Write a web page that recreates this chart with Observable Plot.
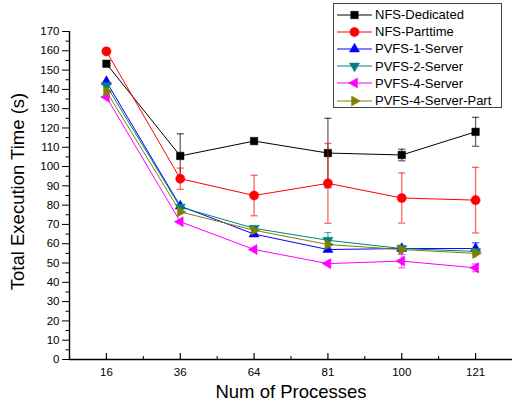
<!DOCTYPE html>
<html>
<head>
<meta charset="utf-8">
<script src="https://cdn.jsdelivr.net/npm/d3@7"></script>
<script src="https://cdn.jsdelivr.net/npm/@observablehq/plot@0.6"></script>
<style>
  body { margin: 0; background: #fff; font-family: "Liberation Sans", Arial, sans-serif; }
  #wrap { position: relative; width: 512px; height: 409px; }
  #legend { position: absolute; left: 333px; top: 3px; width: 167px; height: 103px;
            border: 1px solid #444; background: #fff; box-sizing: content-box; }
  .row { position: absolute; left: 3px; height: 17px; display: flex; align-items: center;
         font-size: 13px; color: #000; white-space: nowrap; }
  .row svg { margin-right: 2px; }
</style>
</head>
<body>
<div id="wrap"><div id="chart"></div><div id="legend"></div></div>
<script>
// ---- data ----
const xLabels = ["16", "36", "64", "81", "100", "121"];
const seriesNames = ["NFS-Dedicated", "NFS-Parttime", "PVFS-1-Server", "PVFS-2-Server", "PVFS-4-Server", "PVFS-4-Server-Part"];
const seriesColors = ["#000000", "#ff0000", "#0000ff", "#008080", "#ff00ff", "#808000"];

const nfsDedicated      = [153.3, 105.5, 113.2, 107.0, 106.0, 118.0];
const nfsDedicatedErr   = [0, 11.5, 0, 18, 3, 7.5];
const nfsParttime       = [159.7, 93.7, 85.0, 91.3, 83.7, 82.6];
const nfsParttimeErr    = [1.5, 5.5, 10.5, 20.7, 13, 17];
const pvfs1Server       = [144.0, 79.5, 65.0, 57.0, 57.5, 57.5];
const pvfs1ServerErr    = [0, 0, 0, 0, 0, 3];
const pvfs2Server       = [142.0, 79.0, 68.0, 61.8, 57.5, 56.0];
const pvfs2ServerErr    = [0, 0, 0, 4, 0, 0];
const pvfs4Server       = [136.0, 71.4, 57.0, 49.7, 51.0, 47.5];
const pvfs4ServerErr    = [0, 0, 0, 0, 3.5, 2];
const pvfs4ServerPart   = [139.0, 76.5, 67.0, 59.6, 57.0, 55.0];
const pvfs4ServerPartErr= [0, 0, 0, 0, 0, 0];

const yMajor = d3.range(0, 171, 10);
const yMinor = d3.range(5, 170, 10);

const seriesValues = [nfsDedicated, nfsParttime, pvfs1Server, pvfs2Server, pvfs4Server, pvfs4ServerPart];
const seriesErrors = [nfsDedicatedErr, nfsParttimeErr, pvfs1ServerErr, pvfs2ServerErr, pvfs4ServerErr, pvfs4ServerPartErr];

// ---- symbols ----
function tri(theta) {
  return {draw(ctx, size) {
    const R = Math.sqrt(size) * 0.72;
    for (let k = 0; k < 3; k++) {
      const a = theta + k * 2 * Math.PI / 3;
      const x = R * Math.cos(a), y = R * Math.sin(a);
      if (k === 0) ctx.moveTo(x, y); else ctx.lineTo(x, y);
    }
    ctx.closePath();
  }};
}
const squareSym = {draw(ctx, size) { const s = Math.sqrt(size) * 0.46; ctx.rect(-s, -s, 2 * s, 2 * s); }};
const circleSym = {draw(ctx, size) { const r = Math.sqrt(size / Math.PI); ctx.moveTo(r, 0); ctx.arc(0, 0, r, 0, 2 * Math.PI); }};
const seriesSymbols = [squareSym, circleSym, tri(-Math.PI / 2), tri(Math.PI / 2), tri(Math.PI), tri(0)];
const capSym = {draw(ctx, size) { ctx.moveTo(-3.6, 0); ctx.lineTo(3.6, 0); }};

// ---- table ----
const rows = [];
seriesNames.forEach((s, k) => {
  seriesValues[k].forEach((v, i) => rows.push({s, k, i, v, e: seriesErrors[k][i]}));
});

const W = 512, H = 409, mT = 31, mB = 50, mL = 69, mR = 0;
const innerH = H - mT - mB;
const xIdx = xLabels.map((_, i) => i);
const xMinor = d3.range(-0.5, xLabels.length, 1);

const marks = [];
// axes
marks.push(Plot.axisY(yMajor, {anchor: "left", tickSize: 7, tickPadding: 3, fontSize: 11.5, label: null, strokeWidth: 1}));
marks.push(Plot.axisY(yMinor, {anchor: "left", tickSize: 3.5, tickFormat: () => "", label: null, strokeWidth: 1}));
marks.push(Plot.axisX(xIdx, {anchor: "bottom", tickSize: 0, tickPadding: 8, fontSize: 11.5, tickFormat: i => xLabels[i], label: null}));
marks.push(Plot.tickX(xIdx, {x: d => d, insetTop: innerH - 6, stroke: "#000", strokeWidth: 1.2}));
marks.push(Plot.tickX(xMinor, {x: d => d, insetTop: innerH - 3, stroke: "#000", strokeWidth: 1}));
marks.push(Plot.ruleY([0], {stroke: "#000", strokeWidth: 1.4}));
marks.push(Plot.ruleX([-0.5], {stroke: "#000", strokeWidth: 1.4}));
// titles
marks.push(Plot.text(["Num of Processes"], {frameAnchor: "bottom", textAnchor: "middle", dy: 38, fontSize: 18.5, fill: "#000"}));
marks.push(Plot.text(["Total Execution Time (s)"], {frameAnchor: "left", textAnchor: "middle", rotate: -90, dx: -51, dy: -4, fontSize: 18.5, fill: "#000"}));

// series
seriesNames.forEach((s, k) => {
  const d = rows.filter(r => r.k === k);
  const de = d.filter(r => r.e > 0);
  const c = seriesColors[k];
  marks.push(Plot.line(d, {x: "i", y: "v", stroke: c, strokeWidth: 1}));
  marks.push(Plot.ruleX(de, {x: "i", y1: r => r.v - r.e, y2: r => r.v + r.e, stroke: c, strokeOpacity: 0.6, strokeWidth: 1.3}));
  marks.push(Plot.dot(de, {x: "i", y: r => r.v + r.e, symbol: capSym, fill: "none", stroke: c, strokeOpacity: 0.6, strokeWidth: 1.3}));
  marks.push(Plot.dot(de, {x: "i", y: r => r.v - r.e, symbol: capSym, fill: "none", stroke: c, strokeOpacity: 0.6, strokeWidth: 1.3}));
  marks.push(Plot.dot(d, {x: "i", y: "v", symbol: seriesSymbols[k], r: 4.6, fill: c, stroke: c, strokeWidth: 0.5}));
});

const chart = Plot.plot({
  width: W, height: H,
  marginTop: mT, marginBottom: mB, marginLeft: mL, marginRight: mR,
  style: {fontFamily: '"Liberation Sans", Arial, sans-serif', color: "#000", background: "#fff", overflow: "visible"},
  x: {type: "linear", domain: [-0.5, xLabels.length - 0.5], axis: null},
  y: {domain: [0, 170], axis: null},
  marks
});
document.getElementById("chart").appendChild(chart);

// legend
const legend = d3.select("#legend");
seriesNames.forEach((s, k) => {
  const row = legend.append("div").attr("class", "row").style("top", (2 + k * 17.2) + "px");
  const sv = row.append("svg").attr("width", 36).attr("height", 14);
  sv.append("line").attr("x1", 0).attr("x2", 35).attr("y1", 7).attr("y2", 7).attr("stroke", seriesColors[k]).attr("stroke-width", 1);
  sv.append("path").attr("transform", "translate(17.5,7)")
    .attr("d", d3.symbol(seriesSymbols[k], Math.PI * 4.6 * 4.6)())
    .attr("fill", seriesColors[k]).attr("stroke", seriesColors[k]).attr("stroke-width", 0.5);
  row.append("span").text(s);
});
</script>
</body>
</html>
